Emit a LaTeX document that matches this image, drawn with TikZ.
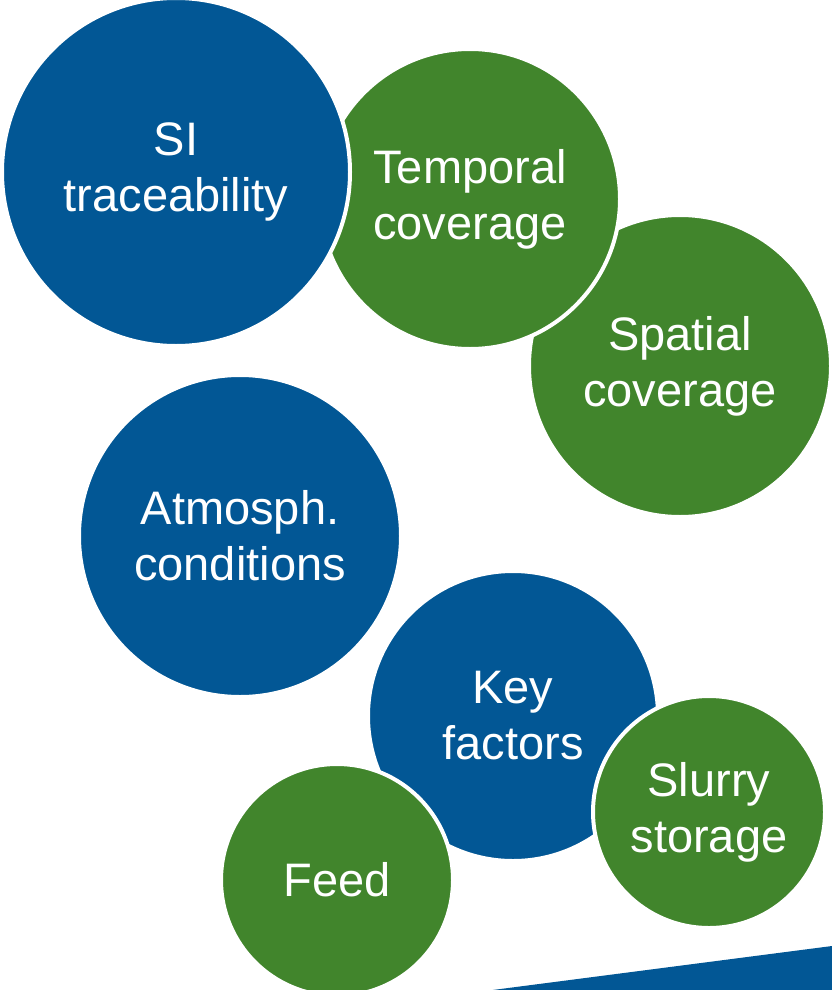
\documentclass[tikz,border=0pt]{standalone}
\usepackage{fontspec}
\setmainfont{Liberation Sans}
\usepackage{tikz}
\definecolor{nplblue}{RGB}{2,87,149}
\definecolor{nplgreen}{RGB}{65,133,44}
\tikzset{
	bubble/.style={circle, fill=#1, draw=white, line width=4pt, text=white, align=center, inner sep=0pt,
		font=\fontsize{47}{56}\selectfont}
}

\begin{document}
\begin{tikzpicture}[x=1pt, y=-1pt]
		%%%%% START %%%%%
		\useasboundingbox (0, 0) rectangle (831, 990);
		
		\fill[nplblue] (485, 991) -- (832, 946) -- (832, 991) -- cycle;
		
		\node[bubble=nplgreen, minimum size=302pt] (spatial) at (680, 366) {Spatial\\coverage};
		\node[bubble=nplgreen, minimum size=300pt] (temporal) at (470, 199) {Temporal\\coverage};
		\node[bubble=nplblue, minimum size=348pt] (si) at (176, 172) {SI\\traceability};
		
		\node[bubble=nplblue, minimum size=322pt] (atmos) at (240, 536) {Atmosph.\\conditions};
		\node[bubble=nplblue, minimum size=290pt] (keyfactors) at (513, 716) {Key\\factors};
		\node[bubble=nplgreen, minimum size=232pt] (slurry) at (709, 812) {Slurry\\storage};
		\node[bubble=nplgreen, minimum size=232pt] (feed) at (337, 880) {Feed};
		
		%%%%% END %%%%%
\end{tikzpicture}
\end{document}
